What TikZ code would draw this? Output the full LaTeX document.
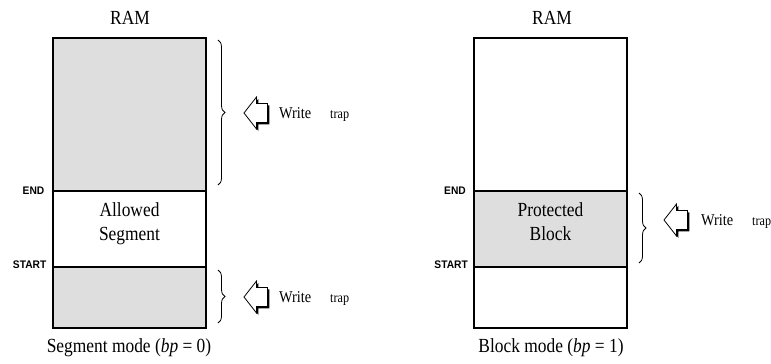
\documentclass[tikz,border=0pt]{standalone}
\usepackage{fontspec}
\setmainfont{Liberation Serif}[FakeStretch=0.87]
\newfontfamily\lblfont{Liberation Sans}[FakeStretch=0.93]
\usetikzlibrary{decorations.pathreplacing}
\definecolor{ramgray}{RGB}{222,222,222}
\begin{document}
\begin{tikzpicture}[x=1pt,y=-1pt,
  region/.style={inner sep=0pt, outer sep=0pt, minimum width=153pt},
  shaded/.style={region, fill=ramgray},
  plain/.style={region},
  border/.style={line width=1.6pt},
  ttl/.style={font=\fontsize{20}{24}\selectfont, anchor=base, inner sep=0pt},
  marklbl/.style={font=\lblfont\bfseries\fontsize{11}{13}\selectfont, anchor=east, inner sep=0pt},
  wtxt/.style={font=\fontsize{16.5}{19}\selectfont, anchor=base west, inner sep=0pt},
  ttxt/.style={font=\fontsize{14}{16}\selectfont, anchor=base west, inner sep=0pt},
  brc/.style={decorate, decoration={brace, amplitude=7pt}, line width=0.8pt},
  warrow/.pic={
    \fill[black] (1.8,1.8) -- (14.3,-14.2) -- (14.3,-7.7) -- (25.3,-7.7) -- (25.3,11.3) -- (14.3,11.3) -- (14.3,17.8) -- cycle;
    \filldraw[fill=white, draw=black, line width=0.8pt] (0,0) -- (12.5,-16) -- (12.5,-9.5) -- (23.5,-9.5) -- (23.5,9.5) -- (12.5,9.5) -- (12.5,16) -- cycle;
  }
]
\useasboundingbox (0,0) rectangle (771,364);

% ---------- Segment mode ----------
\node[shaded, minimum height=153pt] (Ltop) at (129.5,114.5) {};
\node[plain,  minimum height=76pt]  (Lmid) at (129.5,229) {};
\node[shaded, minimum height=61pt]  (Lbot) at (129.5,297.5) {};
\draw[border] (Ltop.north west) rectangle (Lbot.south east);
\draw[border] (Lmid.north west) -- (Lmid.north east);
\draw[border] (Lmid.south west) -- (Lmid.south east);

\node[ttl] (Lram) at (130,24) {RAM};
\node[ttl] (Lallow1) at (129.5,216) {Allowed};
\node[ttl] (Lallow2) at (129.5,240) {Segment};
\node[ttl] (Lcap) at (129,352) {Segment mode (\textit{bp} = 0)};
\node[marklbl] (Lend) at (44.5,190.5) {END};
\node[marklbl] (Lstart) at (46.5,265) {START};

\coordinate (LbA1) at (218,40);
\coordinate (LbA2) at (218,185);
\draw[brc] (LbA1) -- (LbA2);
\coordinate (LbB1) at (218,270);
\coordinate (LbB2) at (218,323);
\draw[brc] (LbB1) -- (LbB2);

\pic (Larr1) at (244,113) {warrow};
\node[wtxt] (Lw1) at (279,118.5) {Write};
\node[ttxt] (Lt1) at (330,118.5) {trap};
\pic (Larr2) at (244,297) {warrow};
\node[wtxt] (Lw2) at (279,302) {Write};
\node[ttxt] (Lt2) at (330,302) {trap};

% ---------- Block mode ----------
\node[plain,  minimum height=153pt] (Rtop) at (550.5,114.5) {};
\node[shaded, minimum height=76pt]  (Rmid) at (550.5,229) {};
\node[plain,  minimum height=61pt]  (Rbot) at (550.5,297.5) {};
\draw[border] (Rtop.north west) rectangle (Rbot.south east);
\draw[border] (Rmid.north west) -- (Rmid.north east);
\draw[border] (Rmid.south west) -- (Rmid.south east);

\node[ttl] (Rram) at (552,24) {RAM};
\node[ttl] (Rprot1) at (550.5,216) {Protected};
\node[ttl] (Rprot2) at (550.5,240) {Block};
\node[ttl] (Rcap) at (551,352) {Block mode (\textit{bp} = 1)};
\node[marklbl] (Rend) at (466,190.5) {END};
\node[marklbl] (Rstart) at (468,265) {START};

\coordinate (RbA1) at (639,193);
\coordinate (RbA2) at (639,263);
\draw[brc] (RbA1) -- (RbA2);

\pic (Rarr) at (664,220) {warrow};
\node[wtxt] (Rw) at (701,225.5) {Write};
\node[ttxt] (Rt) at (752,225.5) {trap};
\end{tikzpicture}
\end{document}
